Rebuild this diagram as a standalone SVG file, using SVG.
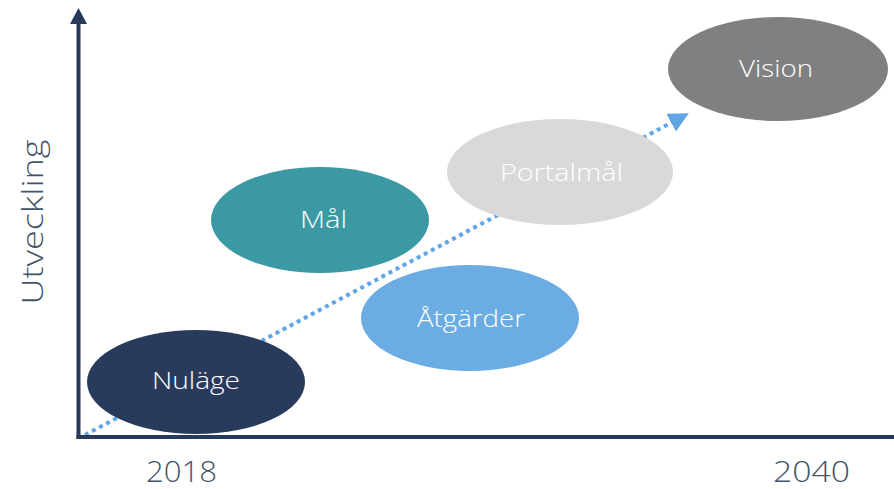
<svg xmlns="http://www.w3.org/2000/svg" width="894" height="489" viewBox="0 0 894 489">
<style>
.lbl{font-family:"Open Sans","Liberation Sans",sans-serif;font-weight:300;font-size:24px;fill:#ffffff;text-anchor:middle}
.ax{font-family:"Open Sans","Liberation Sans",sans-serif;font-weight:300;font-size:29px;fill:#44546A;text-anchor:middle}
</style>
<defs>
<marker id="arr" markerWidth="5" markerHeight="5" refX="2.5" refY="2.5" orient="auto" markerUnits="strokeWidth">
<path d="M0,0 L5,2.5 L0,5 Z" fill="#61A6E4"/>
</marker>
</defs>
<g id="connectors">
<line x1="85" y1="435" x2="680" y2="118" stroke="#61A6E4" stroke-width="4" stroke-dasharray="4 4" marker-end="url(#arr)"/>
</g>
<g id="axes">
<line x1="78.5" y1="20" x2="78.5" y2="439" stroke="#273A5C" stroke-width="4"/>
<path d="M78.5,8 L70,24 L87,24 Z" fill="#273A5C"/>
<line x1="76.5" y1="437" x2="894" y2="437" stroke="#273A5C" stroke-width="4"/>
</g>
<g id="nulage"><ellipse cx="196" cy="382" rx="109" ry="52" fill="#283B5C"/><text class="lbl" x="196" y="389" textLength="88" lengthAdjust="spacingAndGlyphs">Nuläge</text></g>
<g id="mal"><ellipse cx="320" cy="220" rx="109" ry="53" fill="#3A99A3"/><text class="lbl" x="323.5" y="228" textLength="47" lengthAdjust="spacingAndGlyphs">Mål</text></g>
<g id="atgarder"><ellipse cx="470" cy="318" rx="109" ry="53" fill="#6BACE3"/><text class="lbl" x="471" y="327" textLength="108" lengthAdjust="spacingAndGlyphs">Åtgärder</text></g>
<g id="portalmal"><ellipse cx="560" cy="172" rx="113" ry="53" fill="#D9D9D9"/><text class="lbl" x="561.5" y="181" textLength="123" lengthAdjust="spacingAndGlyphs">Portalmål</text></g>
<g id="vision"><ellipse cx="778" cy="69" rx="110" ry="52" fill="#808080"/><text class="lbl" x="776" y="77" textLength="74" lengthAdjust="spacingAndGlyphs">Vision</text></g>
<g id="labels">
<text class="ax" x="181.5" y="482" textLength="71" lengthAdjust="spacingAndGlyphs">2018</text>
<text class="ax" x="811.5" y="482" textLength="77" lengthAdjust="spacingAndGlyphs">2040</text>
<text class="ax" transform="translate(43,222) rotate(-90)" textLength="165" lengthAdjust="spacingAndGlyphs">Utveckling</text>
</g>
</svg>
